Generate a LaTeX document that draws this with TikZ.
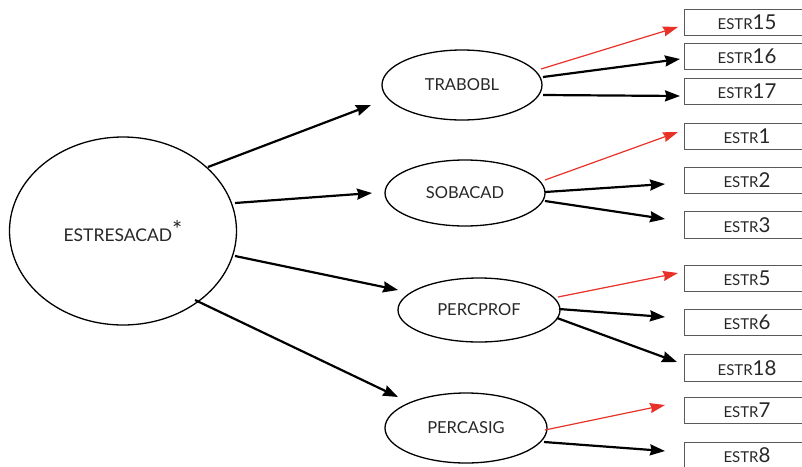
\documentclass[tikz,border=0pt]{standalone}
\usepackage{fontspec}
\setmainfont{Lato}
\usetikzlibrary{arrows.meta,shapes.geometric}
\definecolor{arrred}{RGB}{232,50,40}
\definecolor{boxgray}{RGB}{90,90,90}
\definecolor{txt}{RGB}{40,40,40}
\tikzset{
  latent/.style={ellipse,draw=black,line width=1.3pt,inner sep=0pt,text=txt,font=\fontsize{16.5}{18}\selectfont},
  itembox/.style={rectangle,draw=boxgray,line width=0.9pt,minimum width=126pt,minimum height=26.5pt,inner sep=0pt,text=txt},
  blackarr/.style={draw=black,line width=2.2pt,-{Stealth[length=15pt,width=11pt,inset=1.5pt]}},
  redarr/.style={draw=arrred,line width=1.2pt,-{Stealth[length=15pt,width=10pt,inset=1.5pt]}}
}
\newcommand{\itemlab}[1]{{\fontsize{15}{16}\selectfont ESTR}{\fontsize{20.5}{21}\selectfont #1}}
\begin{document}
\begin{tikzpicture}[x=1pt,y=-1pt]
\fill[white] (0,0) rectangle (802,466);
\clip (0,0) rectangle (802,466);
\useasboundingbox (0,0) rectangle (802,466);

\node[latent,minimum width=227pt,minimum height=188pt,font=\fontsize{17.5}{19}\selectfont] (es) at (123,231) {ESTRESACAD\raisebox{3pt}{\fontsize{24}{24}\selectfont *}};
\node[latent,minimum width=160pt,minimum height=70pt] (tr) at (462,85) {TRABOBL};
\node[latent,minimum width=160pt,minimum height=66pt] (so) at (465,193) {SOBACAD};
\node[latent,minimum width=162pt,minimum height=64pt] (pp) at (479,310) {PERCPROF};
\node[latent,minimum width=162pt,minimum height=70pt] (pa) at (466,428) {PERCASIG};

\node[itembox] (e15) at (747,22.5) {\itemlab{15}};
\node[itembox] (e16) at (747,56.5) {\itemlab{16}};
\node[itembox] (e17) at (747,91.5) {\itemlab{17}};
\node[itembox] (e1) at (747,136.5) {\itemlab{1}};
\node[itembox] (e2) at (747,180.5) {\itemlab{2}};
\node[itembox] (e3) at (747,225) {\itemlab{3}};
\node[itembox] (e5) at (747,278.5) {\itemlab{5}};
\node[itembox] (e6) at (747,322.5) {\itemlab{6}};
\node[itembox] (e18) at (747,368) {\itemlab{18}};
\node[itembox] (e7) at (747,410.5) {\itemlab{7}};
\node[itembox] (e8) at (747,455.5) {\itemlab{8}};

% from ESTRESACAD
\draw[blackarr] ([shift={(85,-64)}]es.center) -- ([shift={(-91,20)}]tr.center);
\draw[blackarr] ([shift={(112,-28)}]es.center) -- ([shift={(-93,0)}]so.center);
\draw[blackarr] ([shift={(112,25)}]es.center) -- ([shift={(-81,-20)}]pp.center);
\draw[blackarr] ([shift={(72,69)}]es.center) -- ([shift={(-68,-31)}]pa.center);

% TRABOBL
\draw[redarr] ([shift={(79,-16)}]tr.center) -- ([shift={(-69,4.5)}]e15.center);
\draw[blackarr] ([shift={(81,-8)}]tr.center) -- ([shift={(-67,2.5)}]e16.center);
\draw[blackarr] ([shift={(81,10)}]tr.center) -- ([shift={(-67,4.5)}]e17.center);

% SOBACAD
\draw[redarr] ([shift={(80,-13)}]so.center) -- ([shift={(-69,-4.5)}]e1.center);
\draw[blackarr] ([shift={(80,-1)}]so.center) -- ([shift={(-82,3.5)}]e2.center);
\draw[blackarr] ([shift={(80,8)}]so.center) -- ([shift={(-82,-6)}]e3.center);

% PERCPROF
\draw[redarr] ([shift={(79,-13)}]pp.center) -- ([shift={(-69,-5.5)}]e5.center);
\draw[blackarr] ([shift={(80,-1)}]pp.center) -- ([shift={(-82,-5.5)}]e6.center);
\draw[blackarr] ([shift={(78,8)}]pp.center) -- ([shift={(-70,-6)}]e18.center);

% PERCASIG
\draw[redarr] ([shift={(79,2)}]pa.center) -- ([shift={(-82,-5.5)}]e7.center);
\draw[blackarr] ([shift={(78,14)}]pa.center) -- ([shift={(-82,-4.5)}]e8.center);
\end{tikzpicture}
\end{document}
